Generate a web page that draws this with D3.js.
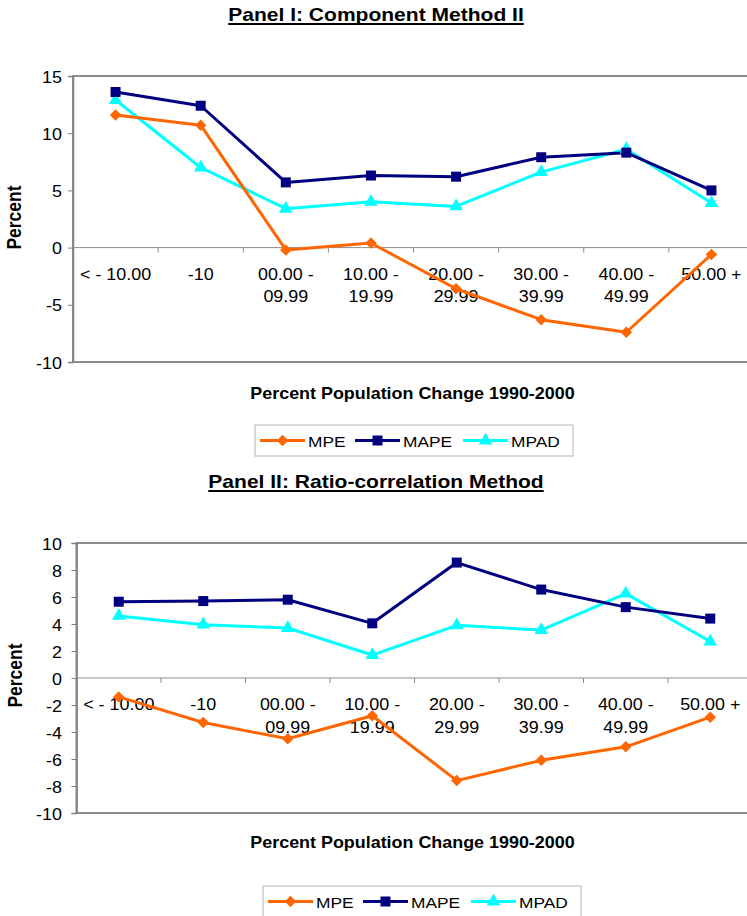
<!DOCTYPE html>
<html>
<head>
<meta charset="utf-8">
<script src="https://cdn.jsdelivr.net/npm/d3@7"></script>
<style>
  html, body { margin: 0; padding: 0; background: #fff; }
  svg { display: block; }
  text { font-family: Arial, "Liberation Sans", sans-serif; fill: #000; }
</style>
</head>
<body>
<svg id="chart" width="747" height="916"></svg>
<script>
// ---------- data ----------
const categories = [
  ["< - 10.00"], ["-10"], ["00.00 -", "09.99"], ["10.00 -", "19.99"],
  ["20.00 -", "29.99"], ["30.00 -", "39.99"], ["40.00 -", "49.99"], ["50.00 +"]
];
const seriesNames = ["MPE", "MAPE", "MPAD"];

const panel1Title = "Panel I: Component Method II";
const panel1MPE  = [11.6, 10.7, -0.2, 0.4, -3.6, -6.3, -7.4, -0.6];
const panel1MAPE = [13.6, 12.4, 5.7, 6.3, 6.2, 7.9, 8.3, 5.0];
const panel1MPAD = [12.9, 7.0, 3.4, 4.0, 3.6, 6.6, 8.6, 3.9];
const panel1Ticks = [-10, -5, 0, 5, 10, 15];

const panel2Title = "Panel II: Ratio-correlation Method";
const panel2MPE  = [-1.4, -3.3, -4.5, -2.8, -7.6, -6.1, -5.1, -2.9];
const panel2MAPE = [5.65, 5.7, 5.8, 4.05, 8.55, 6.55, 5.25, 4.4];
const panel2MPAD = [4.6, 3.95, 3.7, 1.7, 3.9, 3.55, 6.25, 2.7];
const panel2Ticks = [-10, -8, -6, -4, -2, 0, 2, 4, 6, 8, 10];

const yLabel = "Percent";
const xLabel = "Percent Population Change 1990-2000";

// ---------- style ----------
const colors = { MPE: "#FF6600", MAPE: "#000080", MPAD: "#00FFFF" };
const shapes = { MPE: d3.symbolSquare, MAPE: d3.symbolSquare, MPAD: d3.symbolTriangle };
const symSize = { MPE: 66, MAPE: 100, MPAD: 80 };
const symRot = { MPE: 45, MAPE: 0, MPAD: 0 };
const SX = 1.12; // horizontal stretch of the reference text

const svg = d3.select("#chart");

function txt(parent, x, y, str, o = {}) {
  const g = parent.append("g").attr("transform", `translate(${x},${y})` + (o.rotate ? ` rotate(${o.rotate})` : ""));
  g.append("text")
    .attr("transform", o.rotate ? `scale(1,${SX})` : `scale(${SX},1)`)
    .attr("text-anchor", o.anchor || "start")
    .style("font-size", (o.size || 16) + "px")
    .style("font-weight", o.bold ? "bold" : "normal")
    .text(str);
  return g;
}

function drawPanel(cfg) {
  const g = svg.append("g");
  const x = d3.scaleBand().domain(d3.range(categories.length)).range([cfg.left, cfg.right]);
  const y = d3.scaleLinear().domain([cfg.ticks[0], cfg.ticks[cfg.ticks.length - 1]]).range([cfg.bottom, cfg.top]);

  // plot frame
  g.append("rect")
    .attr("x", cfg.left).attr("y", cfg.top)
    .attr("width", cfg.right - cfg.left).attr("height", cfg.bottom - cfg.top)
    .attr("fill", "none").attr("stroke", "#8c8c8c").attr("stroke-width", 2);

  // y axis
  const yAxis = g.append("g").attr("transform", `translate(${cfg.left},0)`)
    .call(d3.axisLeft(y).tickValues(cfg.ticks).tickSize(5));
  yAxis.select(".domain").attr("stroke", "#808080").attr("stroke-width", 1.5);
  yAxis.selectAll(".tick line").attr("stroke", "#808080");
  yAxis.selectAll(".tick text").remove();
  yAxis.selectAll(".tick").each(function (d) {
    txt(d3.select(this), 62 - cfg.left, 6, String(d), { anchor: "end", size: 16 });
  });

  // zero line with category ticks
  const y0 = y(0);
  g.append("line").attr("x1", cfg.left).attr("x2", cfg.right).attr("y1", y0).attr("y2", y0)
    .attr("stroke", "#8c8c8c").attr("stroke-width", 1);
  const xAxis = g.append("g").attr("transform", `translate(0,${y0})`);
  xAxis.selectAll("line.tk").data(d3.range(1, categories.length)).join("line")
    .attr("class", "tk")
    .attr("x1", d => x(d)).attr("x2", d => x(d)).attr("y1", 0).attr("y2", 5)
    .attr("stroke", "#8c8c8c");

  // category labels
  categories.forEach((lines, i) => {
    lines.forEach((s, j) => {
      txt(g, x(i) + x.bandwidth() / 2, y0 + 32 + j * 22.5, s, { anchor: "middle", size: 16 });
    });
  });

  // series
  const data = { MPE: cfg.MPE, MAPE: cfg.MAPE, MPAD: cfg.MPAD };
  const line = d3.line().x((d, i) => x(i) + x.bandwidth() / 2).y(d => y(d));
  ["MPAD", "MAPE", "MPE"].forEach(name => {
    g.append("path").datum(data[name]).attr("d", line)
      .attr("fill", "none").attr("stroke", colors[name]).attr("stroke-width", 3)
      .attr("stroke-linejoin", "round");
  });
  ["MPAD", "MAPE", "MPE"].forEach(name => {
    g.selectAll(null).data(data[name]).join("path")
      .attr("transform", (d, i) => `translate(${x(i) + x.bandwidth() / 2},${y(d)}) rotate(${symRot[name]})`)
      .attr("d", d3.symbol().type(shapes[name]).size(symSize[name]))
      .attr("fill", colors[name]);
  });

  // y label
  txt(g, cfg.yLabelX, (cfg.top + cfg.bottom) / 2 + cfg.yLabelDy, yLabel, { anchor: "middle", size: 17.5, bold: true, rotate: -90 });

  // x label
  txt(g, 412.5, cfg.xLabelY, xLabel, { anchor: "middle", size: 16, bold: true });

  // title with underline
  const tg = txt(g, 376, cfg.titleY, cfg.title, { anchor: "middle", size: 18.8, bold: true });
  const bb = tg.node().getBBox();
  g.append("line").attr("x1", 376 + bb.x).attr("x2", 376 + bb.x + bb.width)
    .attr("y1", cfg.titleY + 3).attr("y2", cfg.titleY + 3)
    .attr("stroke", "#000").attr("stroke-width", 2);

  // legend
  const lg = g.append("g");
  lg.append("rect").attr("x", cfg.legX).attr("y", cfg.legY)
    .attr("width", 318).attr("height", 31)
    .attr("fill", "#fff").attr("stroke", "#b4b4b4").attr("stroke-width", 1);
  const offs = [5, 100, 208];
  seriesNames.forEach((name, k) => {
    const lx = cfg.legX + offs[k];
    const ly = cfg.legY + 15.5;
    lg.append("line").attr("x1", lx).attr("x2", lx + 45).attr("y1", ly).attr("y2", ly)
      .attr("stroke", colors[name]).attr("stroke-width", 3);
    lg.append("path").attr("transform", `translate(${lx + 22.5},${ly}) rotate(${symRot[name]})`)
      .attr("d", d3.symbol().type(shapes[name]).size(symSize[name]))
      .attr("fill", colors[name]);
    txt(lg, lx + 48, ly + 6, name, { size: 15.5 });
  });
}

drawPanel({
  title: panel1Title, titleY: 21,
  left: 73, right: 754, top: 76, bottom: 362, ticks: panel1Ticks,
  MPE: panel1MPE, MAPE: panel1MAPE, MPAD: panel1MPAD,
  yLabelX: 21, yLabelDy: -1.5, xLabelY: 399,
  legX: 255, legY: 425
});
drawPanel({
  title: panel2Title, titleY: 488,
  left: 76.5, right: 752.5, top: 543, bottom: 813, ticks: panel2Ticks,
  MPE: panel2MPE, MAPE: panel2MAPE, MPAD: panel2MPAD,
  yLabelX: 22, yLabelDy: -2.5, xLabelY: 848,
  legX: 263, legY: 886
});
</script>
</body>
</html>
